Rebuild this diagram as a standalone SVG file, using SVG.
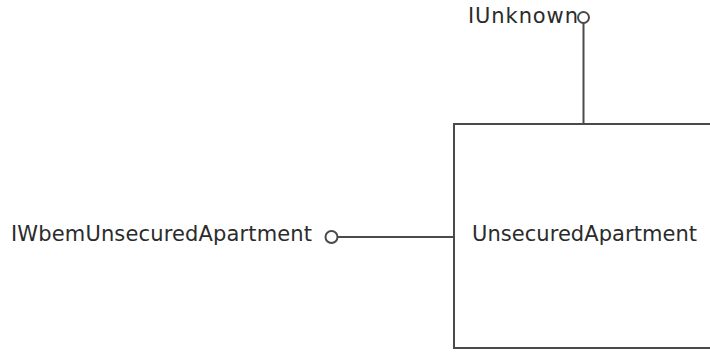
<svg xmlns="http://www.w3.org/2000/svg" width="710" height="352" viewBox="0 0 710 352">
<style>
.t{font-family:"DejaVu Sans",Verdana,sans-serif;font-size:21px;fill:#2b2b2b}
.ln{stroke:#4a4a4a;stroke-width:2;fill:none}
.ll{stroke:#4a4a4a;stroke-width:2;fill:#fff}
</style>
<rect width="710" height="352" fill="#fff"/>
<g id="connectors">
<line class="ln" x1="583.5" y1="23" x2="583.5" y2="124"/>
<line class="ln" x1="337.5" y1="237" x2="454" y2="237"/>
</g>
<g id="UnsecuredApartment">
<rect class="ln" x="454" y="124" width="270" height="224"/>
<text class="t" x="472" y="241" textLength="225">UnsecuredApartment</text>
</g>
<g id="IUnknown">
<circle class="ll" cx="583.5" cy="17.5" r="5.5"/>
<text class="t" x="468" y="23" textLength="110">IUnknown</text>
</g>
<g id="IWbemUnsecuredApartment">
<circle class="ll" cx="331.5" cy="237" r="6"/>
<text class="t" x="11" y="241" textLength="301">IWbemUnsecuredApartment</text>
</g>
</svg>
